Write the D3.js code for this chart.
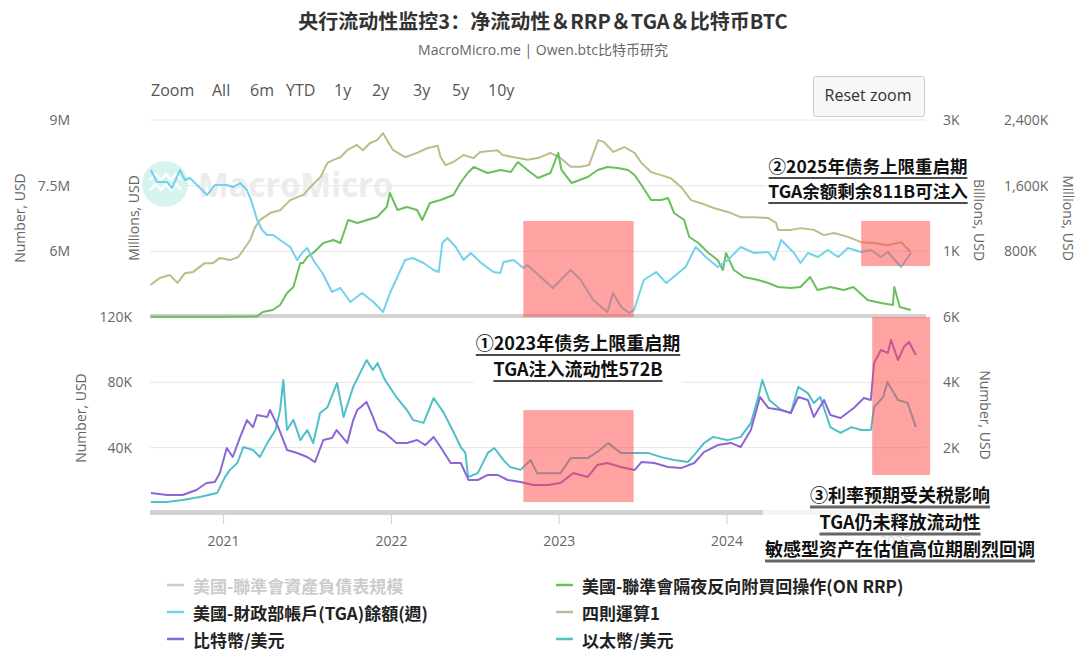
<!DOCTYPE html>
<html>
<head>
<meta charset="utf-8">
<script src="https://cdn.jsdelivr.net/npm/d3@7"></script>
<style>
  body { margin: 0; background: #fff; }
  svg { display: block; }
</style>
</head>
<body>
<svg id="chart" width="1090" height="662"></svg>
<script>
// ---- data ----
// 四則運算1 (millions USD, shown as M)
var netLiq = [
  ["2020-07-27",5.23],["2020-08-16",5.39],["2020-09-07",5.46],["2020-09-24",5.28],["2020-10-10",5.50],
  ["2020-10-28",5.53],["2020-11-22",5.73],["2020-12-10",5.73],["2020-12-25",5.85],["2021-01-16",5.80],
  ["2021-02-03",5.87],["2021-02-14",6.03],["2021-03-01",6.26],["2021-03-12",6.56],["2021-03-23",6.72],
  ["2021-04-14",6.88],["2021-05-05",6.94],["2021-05-27",7.17],["2021-06-12",7.24],["2021-06-25",7.29],
  ["2021-07-10",7.47],["2021-08-01",7.70],["2021-08-16",8.02],["2021-08-29",8.09],["2021-09-13",8.15],
  ["2021-09-28",8.31],["2021-10-19",8.43],["2021-11-01",8.31],["2021-11-16",8.47],["2021-12-02",8.54],
  ["2021-12-15",8.70],["2021-12-26",8.50],["2022-01-06",8.31],["2022-02-01",8.15],["2022-02-27",8.25],
  ["2022-03-22",8.36],["2022-04-13",8.41],["2022-04-19",8.15],["2022-04-30",7.97],["2022-05-17",8.04],
  ["2022-06-08",8.20],["2022-06-30",8.13],["2022-07-14",8.27],["2022-08-21",8.31],["2022-09-01",8.20],
  ["2022-09-25",8.15],["2022-10-25",8.09],["2022-11-17",8.13],["2022-12-14",8.25],["2023-01-05",8.13],
  ["2023-01-27",7.93],["2023-02-18",7.93],["2023-03-08",7.97],["2023-03-28",8.54],["2023-04-09",8.50],
  ["2023-04-30",8.27],["2023-05-24",8.38],["2023-06-15",8.25],["2023-06-30",8.02],["2023-07-21",7.81],
  ["2023-08-12",7.74],["2023-09-02",7.67],["2023-09-24",7.47],["2023-10-16",7.17],["2023-11-06",7.10],
  ["2023-12-04",6.99],["2024-01-04",6.90],["2024-02-01",6.78],["2024-03-01",6.78],["2024-04-01",6.76],
  ["2024-04-18",6.65],["2024-04-22",6.49],["2024-05-20",6.49],["2024-06-10",6.53],["2024-07-09",6.49],
  ["2024-07-31",6.37],["2024-08-22",6.42],["2024-09-21",6.33],["2024-10-20",6.21],["2024-11-17",6.19],
  ["2024-12-17",6.14],["2025-01-15",6.21],["2025-02-05",5.98]
];

// 財政部帳戶 TGA (millions USD, in K)
var tga = [
  ["2020-07-28",1790],["2020-08-10",1644],["2020-09-01",1644],["2020-09-12",1571],["2020-09-29",1790],
  ["2020-10-10",1669],["2020-10-21",1693],["2020-11-27",1486],["2020-12-14",1608],["2021-01-09",1608],
  ["2021-01-22",1583],["2021-02-07",1632],["2021-02-22",1547],["2021-03-05",1389],["2021-03-16",1181],
  ["2021-03-27",1060],["2021-04-07",999],["2021-04-20",999],["2021-05-05",938],["2021-05-27",853],
  ["2021-06-11",694],["2021-06-22",780],["2021-07-03",840],["2021-07-16",694],["2021-08-05",536],
  ["2021-08-26",305],["2021-09-13",353],["2021-10-05",183],["2021-10-30",292],["2021-11-24",183],
  ["2021-12-15",61],["2021-12-30",292],["2022-01-15",487],["2022-02-01",694],["2022-02-18",719],
  ["2022-03-13",658],["2022-04-04",572],["2022-04-15",548],["2022-04-23",901],["2022-05-04",962],
  ["2022-05-22",853],["2022-06-08",694],["2022-06-24",780],["2022-07-14",670],["2022-08-12",548],
  ["2022-08-27",536],["2022-09-03",670],["2022-09-25",694],["2022-10-16",597],["2022-10-25",633],
  ["2022-11-23",487],["2022-12-19",353],["2023-01-05",451],["2023-01-27",572],["2023-02-18",451],
  ["2023-03-17",207],["2023-04-17",61],["2023-04-29",292],["2023-05-17",122],["2023-06-03",49],
  ["2023-06-14",85],["2023-07-05",451],["2023-08-01",548],["2023-08-23",414],["2023-09-13",512],
  ["2023-10-04",609],["2023-10-26",853],["2023-11-17",731],["2023-12-13",609],["2024-01-04",694],
  ["2024-02-01",853],["2024-03-01",780],["2024-04-01",792],["2024-04-14",694],["2024-04-29",938],
  ["2024-05-14",853],["2024-05-27",780],["2024-06-10",658],["2024-06-26",780],["2024-07-18",731],
  ["2024-08-08",816],["2024-08-31",731],["2024-09-21",840],["2024-10-20",792],["2024-11-10",816],
  ["2024-12-02",731],["2024-12-17",792],["2025-01-15",609],["2025-02-05",780]
];

// 聯準會隔夜反向附買回操作 ON RRP (millions USD, in K)
var rrp = [
  ["2020-07-27",3],["2020-10-01",2],["2021-01-01",3],["2021-03-15",6],["2021-03-28",76],
  ["2021-04-19",107],["2021-05-05",183],["2021-05-20",366],["2021-06-03",457],["2021-06-18",822],
  ["2021-06-24",822],["2021-07-03",914],["2021-07-16",975],["2021-08-07",1127],["2021-08-29",1173],
  ["2021-09-13",1127],["2021-09-30",1477],["2021-10-20",1432],["2021-11-10",1477],["2021-12-02",1523],
  ["2021-12-23",1675],["2021-12-30",1889],["2022-01-15",1630],["2022-02-05",1675],["2022-02-27",1630],
  ["2022-03-10",1477],["2022-03-27",1736],["2022-04-19",1782],["2022-05-17",1858],["2022-06-01",2041],
  ["2022-06-17",2193],["2022-06-30",2285],["2022-07-30",2193],["2022-08-28",2239],["2022-09-19",2208],
  ["2022-10-04",2361],["2022-10-25",2239],["2022-11-17",2117],["2022-12-14",2193],["2022-12-31",2498],
  ["2023-01-07",2239],["2023-01-29",2041],["2023-03-05",2132],["2023-03-27",2239],["2023-04-17",2285],
  ["2023-05-09",2269],["2023-06-01",2239],["2023-06-15",2163],["2023-06-30",2010],["2023-07-21",1782],
  ["2023-08-12",1782],["2023-08-27",1812],["2023-09-09",1584],["2023-10-01",1477],["2023-10-12",1218],
  ["2023-11-01",1127],["2023-11-23",975],["2023-12-13",868],["2023-12-24",716],["2023-12-31",975],
  ["2024-01-17",716],["2024-02-08",609],["2024-03-10",564],["2024-04-01",518],["2024-04-22",457],
  ["2024-05-20",442],["2024-06-10",457],["2024-07-01",609],["2024-07-17",411],["2024-08-14",457],
  ["2024-09-12",411],["2024-10-03",457],["2024-11-03",259],["2024-12-02",213],["2024-12-28",183],
  ["2024-12-31",457],["2025-01-12",152],["2025-02-05",107]
];

// 比特幣/美元 (K USD)
var btc = [
  ["2020-07-28",12.2],["2020-09-01",11.0],["2020-10-05",11.0],["2020-11-04",14.1],["2020-11-26",18.4],
  ["2020-12-14",19.0],["2020-12-25",24.5],["2021-01-09",39.8],["2021-01-22",34.3],["2021-02-07",46.5],
  ["2021-02-22",56.9],["2021-03-07",52.6],["2021-03-16",60.0],["2021-04-07",58.8],["2021-04-13",63.1],
  ["2021-05-01",52.6],["2021-05-20",38.6],["2021-06-11",36.7],["2021-07-03",34.3],["2021-07-20",31.2],
  ["2021-08-07",44.7],["2021-08-26",45.9],["2021-09-05",50.8],["2021-09-28",42.9],["2021-10-11",56.9],
  ["2021-10-20",63.1],["2021-11-09",68.0],["2021-11-23",58.8],["2021-12-04",50.8],["2021-12-19",49.0],
  ["2022-01-13",42.9],["2022-02-05",42.9],["2022-02-27",44.7],["2022-03-17",41.6],["2022-04-04",46.5],
  ["2022-04-19",40.4],["2022-05-11",30.6],["2022-06-02",30.6],["2022-06-19",20.2],["2022-07-09",20.2],
  ["2022-07-31",23.3],["2022-08-21",23.3],["2022-09-12",20.2],["2022-10-10",19.0],["2022-11-07",17.1],
  ["2022-12-08",17.1],["2023-01-05",18.4],["2023-02-02",24.5],["2023-03-05",22.0],["2023-03-26",29.4],
  ["2023-04-17",30.6],["2023-05-16",28.2],["2023-06-15",26.3],["2023-06-30",31.2],["2023-07-28",30.6],
  ["2023-08-27",28.2],["2023-09-24",27.5],["2023-10-23",30.6],["2023-11-13",37.3],["2023-12-13",41.6],
  ["2024-01-10",42.9],["2024-02-01",40.4],["2024-02-23",50.8],["2024-03-14",71.0],["2024-04-01",64.3],
  ["2024-04-29",63.1],["2024-05-20",61.2],["2024-06-05",71.0],["2024-06-26",69.2],["2024-07-09",58.8],
  ["2024-07-31",69.2],["2024-08-14",60.0],["2024-09-05",58.2],["2024-10-04",64.3],["2024-10-26",70.4],
  ["2024-11-10",69.2],["2024-11-17",91.8],["2024-12-02",99.8],["2024-12-17",98.0],["2024-12-24",105.9],
  ["2025-01-08",93.7],["2025-01-21",101.6],["2025-02-01",104.7],["2025-02-16",96.7]
];

// 以太幣/美元 (K USD)
var eth = [
  ["2020-07-28",0.34],["2020-09-01",0.34],["2020-10-05",0.40],["2020-11-11",0.49],["2020-12-19",0.61],
  ["2021-01-05",1.10],["2021-01-16",1.32],["2021-02-01",1.53],["2021-02-14",2.02],["2021-03-07",1.93],
  ["2021-03-22",1.71],["2021-04-07",2.14],["2021-04-25",2.54],["2021-05-05",3.15],["2021-05-12",4.07],
  ["2021-05-20",2.54],["2021-06-03",2.85],["2021-06-18",2.23],["2021-07-03",2.54],["2021-07-16",2.14],
  ["2021-07-31",3.06],["2021-08-16",3.24],["2021-09-06",3.98],["2021-09-20",2.94],["2021-10-11",3.86],
  ["2021-11-09",4.68],["2021-11-23",4.38],["2021-12-03",4.59],["2021-12-19",4.07],["2022-01-13",3.55],
  ["2022-02-05",3.15],["2022-02-18",2.85],["2022-03-13",2.76],["2022-04-04",3.52],["2022-04-25",3.09],
  ["2022-05-15",2.54],["2022-06-02",2.02],["2022-06-12",1.84],["2022-06-18",1.10],["2022-07-09",1.22],
  ["2022-07-31",1.84],["2022-08-14",1.99],["2022-09-03",1.62],["2022-09-17",1.41],["2022-10-10",1.32],
  ["2022-11-01",1.62],["2022-11-15",1.22],["2022-12-08",1.22],["2023-01-05",1.22],["2023-01-27",1.68],
  ["2023-03-05",1.68],["2023-03-26",1.87],["2023-04-19",2.14],["2023-05-16",1.84],["2023-06-15",1.84],
  ["2023-07-14",1.84],["2023-08-12",1.71],["2023-09-09",1.62],["2023-10-09",1.56],["2023-10-23",1.78],
  ["2023-11-13",2.14],["2023-12-03",2.33],["2024-01-04",2.23],["2024-02-01",2.33],["2024-02-23",2.75],
  ["2024-03-10",3.55],["2024-03-19",4.07],["2024-04-03",3.46],["2024-04-29",3.15],["2024-05-20",3.06],
  ["2024-06-05",3.86],["2024-06-26",3.67],["2024-07-09",3.37],["2024-07-23",3.55],["2024-08-14",2.63],
  ["2024-09-05",2.45],["2024-09-29",2.63],["2024-10-20",2.54],["2024-11-10",2.54],["2024-11-17",3.24],
  ["2024-12-07",3.55],["2024-12-16",4.01],["2025-01-08",3.46],["2025-01-29",3.37],["2025-02-16",2.63]
];

var legendNames = [
  "美國-聯準會資產負債表規模", "美國-聯準會隔夜反向附買回操作(ON RRP)",
  "美國-財政部帳戶(TGA)餘額(週)", "四則運算1",
  "比特幣/美元", "以太幣/美元"
];
var legendColors = ["#cccccc", "#6abf5a", "#72d2ec", "#bdbd8c", "#8c66d8", "#4fbfca"];

var rangeButtons = ["Zoom", "All", "6m", "YTD", "1y", "2y", "3y", "5y", "10y"];
var rangeX = [151, 212, 250, 286, 334, 372, 413, 452, 488];

// highlighted periods: [start, end, low, high]
var zonesTop = [["2022-10-16","2023-06-13",0,1169],["2024-10-20","2025-03-19",621,1169]];
var zonesLow = [["2022-10-16","2023-06-13",6.7,63],["2024-11-13","2025-03-19",23.3,120]];

var parse = d3.timeParse("%Y-%m-%d");
var svg = d3.select("#chart");
var latin = "'Open Sans', 'Noto Sans CJK SC', sans-serif";
var cjkSC = "'Noto Sans CJK SC', sans-serif";
var cjkTC = "'Noto Sans CJK TC', sans-serif";

var x = d3.scaleTime().domain([parse("2020-07-26"), parse("2025-03-10")]).range([150, 926]);

var topY0 = 317, topY1 = 120, lowY0 = 513, lowY1 = 317;
var yNet = d3.scaleLinear().domain([4.5, 9]).range([topY0, topY1]);
var yRrp = d3.scaleLinear().domain([0, 3000]).range([topY0, topY1]);
var yBil = d3.scaleLinear().domain([0, 3]).range([topY0, topY1]);
var yTga = d3.scaleLinear().domain([0, 2400]).range([topY0, topY1]);
var yBtc = d3.scaleLinear().domain([0, 120]).range([lowY0, lowY1]);
var yEth = d3.scaleLinear().domain([0, 6]).range([lowY0, lowY1]);

// title
svg.append("text").attr("x", 543).attr("y", 29).attr("text-anchor", "middle")
  .attr("font-family", cjkSC).attr("font-weight", 700).attr("font-size", 20).attr("fill", "#333")
  .text("央行流动性监控3：净流动性＆RRP＆TGA＆比特币BTC");
svg.append("text").attr("x", 543).attr("y", 55).attr("text-anchor", "middle")
  .attr("font-family", latin).attr("font-size", 14).attr("fill", "#666")
  .text("MacroMicro.me | Owen.btc比特币研究");

// range selector
svg.selectAll("text.range").data(rangeButtons).enter().append("text")
  .attr("class", "range")
  .attr("x", function(d, i) { return rangeX[i]; }).attr("y", 96)
  .attr("font-family", latin).attr("font-size", 16).attr("fill", "#555")
  .text(function(d) { return d; });

svg.append("rect").attr("x", 813.5).attr("y", 76.5).attr("width", 111).attr("height", 40)
  .attr("rx", 2).attr("fill", "#f7f7f7").attr("stroke", "#cccccc");
svg.append("text").attr("x", 868).attr("y", 101).attr("text-anchor", "middle")
  .attr("font-family", latin).attr("font-size", 16).attr("fill", "#333").text("Reset zoom");

// gridlines
var grid = svg.append("g");
grid.selectAll("line.gt").data([6, 7.5, 9]).enter().append("line")
  .attr("x1", 150).attr("x2", 926).attr("y1", yNet).attr("y2", yNet)
  .attr("stroke", "#e6e6e6");
grid.selectAll("line.gb").data([40, 80]).enter().append("line")
  .attr("x1", 150).attr("x2", 926).attr("y1", yBtc).attr("y2", yBtc)
  .attr("stroke", "#e6e6e6");

// watermark
var wm = svg.append("g");
wm.append("circle").attr("cx", 165).attr("cy", 184).attr("r", 23).attr("fill", "#d6f3ee");
wm.append("path").attr("d", "M150,180 l6,-6 l5,6 l5,-6 l5,6 l5,-6 l5,6 M150,190 l6,-6 l5,6 l5,-6 l5,6 l5,-6 l5,6")
  .attr("fill", "none").attr("stroke", "#fff").attr("stroke-width", 2.5);
wm.append("text").attr("x", 198).attr("y", 197).attr("font-family", "'Open Sans', sans-serif")
  .attr("font-weight", 700).attr("font-size", 34).attr("fill", "#ececec")
  .attr("textLength", 195).attr("lengthAdjust", "spacingAndGlyphs").text("MacroMicro");

// bottom bands of each pane
svg.append("rect").attr("x", 150).attr("y", 314).attr("width", 776).attr("height", 4).attr("fill", "#d2d2d2");
svg.append("rect").attr("x", 150).attr("y", 510).attr("width", 776).attr("height", 5).attr("fill", "#d2d2d2");

// x axis
var xAxis = svg.append("g").attr("transform", "translate(0,514)")
  .call(d3.axisBottom(x).ticks(d3.timeYear.every(1)).tickSize(10).tickPadding(12)
    .tickFormat(d3.timeFormat("%Y")));
xAxis.select(".domain").remove();
xAxis.selectAll("line").attr("stroke", "#d0d0d0");
xAxis.selectAll("text").attr("font-family", latin).attr("font-size", 14).attr("fill", "#666");

// y axes
function styleAxis(g) {
  g.select(".domain").remove();
  g.selectAll("line").remove();
  g.selectAll("text").attr("font-family", latin).attr("font-size", 14).attr("fill", "#666");
}
svg.append("g").attr("transform", "translate(70,0)")
  .call(d3.axisLeft(yNet).tickValues([6, 7.5, 9]).tickSize(0).tickPadding(0)
    .tickFormat(function(d) { return d + "M"; })).call(styleAxis);
svg.append("g").attr("transform", "translate(132,0)")
  .call(d3.axisLeft(yBtc).tickValues([40, 80, 120]).tickSize(0).tickPadding(0)
    .tickFormat(function(d) { return d + "K"; })).call(styleAxis);
// the 2K label sits under annotation ② in the original, so only 1K and 3K show
svg.append("g").attr("transform", "translate(943,0)")
  .call(d3.axisRight(yBil).tickValues([1, 3]).tickSize(0).tickPadding(0)
    .tickFormat(function(d) { return d + "K"; })).call(styleAxis);
svg.append("g").attr("transform", "translate(1004,0)")
  .call(d3.axisRight(yTga).tickValues([800, 1600, 2400]).tickSize(0).tickPadding(0)
    .tickFormat(function(d) { return d3.format(",")(d) + "K"; })).call(styleAxis);
svg.append("g").attr("transform", "translate(943,0)")
  .call(d3.axisRight(yEth).tickValues([2, 4, 6]).tickSize(0).tickPadding(0)
    .tickFormat(function(d) { return d + "K"; })).call(styleAxis);

// axis titles
function axisTitle(tx, ty, rot, label) {
  svg.append("text").attr("transform", "translate(" + tx + "," + ty + ") rotate(" + rot + ")")
    .attr("text-anchor", "middle").attr("dominant-baseline", "central")
    .attr("font-family", latin).attr("font-size", 14).attr("fill", "#666").text(label);
}
axisTitle(19, 218, -90, "Number, USD");
axisTitle(133, 218, -90, "Millions, USD");
axisTitle(80, 418, -90, "Number, USD");
axisTitle(979, 220, 90, "Billions, USD");
axisTitle(1068, 218, 90, "Millions, USD");
axisTitle(985, 415, 90, "Number, USD");

// lines
function drawLine(data, yScale, color) {
  var line = d3.line()
    .x(function(d) { return x(parse(d[0])); })
    .y(function(d) { return yScale(d[1]); });
  svg.append("path").datum(data).attr("d", line)
    .attr("fill", "none").attr("stroke", color).attr("stroke-width", 2)
    .attr("stroke-linejoin", "round");
}
drawLine(netLiq, yNet, legendColors[3]);
drawLine(rrp, yRrp, legendColors[1]);
drawLine(tga, yTga, legendColors[2]);
drawLine(eth, yEth, legendColors[5]);
drawLine(btc, yBtc, legendColors[4]);

// highlight zones
svg.selectAll("rect.zt").data(zonesTop).enter().append("rect")
  .attr("x", function(d) { return x(parse(d[0])); })
  .attr("width", function(d) { return x(parse(d[1])) - x(parse(d[0])); })
  .attr("y", function(d) { return yTga(d[3]); })
  .attr("height", function(d) { return yTga(d[2]) - yTga(d[3]); })
  .attr("fill", "rgb(255,70,70)").attr("fill-opacity", 0.5);
svg.selectAll("rect.zl").data(zonesLow).enter().append("rect")
  .attr("x", function(d) { return x(parse(d[0])); })
  .attr("width", function(d) { return x(parse(d[1])) - x(parse(d[0])); })
  .attr("y", function(d) { return yBtc(d[3]); })
  .attr("height", function(d) { return yBtc(d[2]) - yBtc(d[3]); })
  .attr("fill", "rgb(255,70,70)").attr("fill-opacity", 0.5);

// annotations
function note(lines, cx, baselines, size, bgOpacity, ulColor, ulWidth) {
  var g = svg.append("g");
  var bg = g.append("rect").attr("fill", "#fff").attr("fill-opacity", bgOpacity);
  var texts = lines.map(function(t, i) {
    return g.append("text").attr("x", cx).attr("y", baselines[i]).attr("text-anchor", "middle")
      .attr("font-family", cjkSC).attr("font-weight", 700).attr("font-size", size)
      .attr("fill", "#111").text(t);
  });
  var minX = 1e9, maxX = -1e9;
  texts.forEach(function(t, i) {
    var w = t.node().getComputedTextLength();
    minX = Math.min(minX, cx - w / 2); maxX = Math.max(maxX, cx + w / 2);
    g.append("line").attr("x1", cx - w / 2).attr("x2", cx + w / 2)
      .attr("y1", baselines[i] + 5).attr("y2", baselines[i] + 5)
      .attr("stroke", ulColor).attr("stroke-width", ulWidth);
  });
  bg.attr("x", minX - 2).attr("width", maxX - minX + 4)
    .attr("y", baselines[0] - size - 1).attr("height", baselines[baselines.length - 1] - baselines[0] + size + 9);
}
note(["①2023年债务上限重启期", "TGA注入流动性572B"], 578, [350, 376], 18, 1, "#111", 1.5);
note(["②2025年债务上限重启期", "TGA余额剩余811B可注入"], 868, [173, 198], 17.5, 1, "#111", 1.5);
note(["③利率预期受关税影响", "TGA仍未释放流动性", "敏感型资产在估值高位期剧烈回调"],
  900, [502, 529, 556], 18, 0.75, "#666", 3);

// legend
var legend = svg.append("g");
var legX = [167, 556];
var legY = [585, 612, 639];
legendNames.forEach(function(name, i) {
  var col = i % 2, row = Math.floor(i / 2);
  var lx = legX[col], ly = legY[row];
  legend.append("line").attr("x1", lx).attr("x2", lx + 17).attr("y1", ly).attr("y2", ly)
    .attr("stroke", legendColors[i]).attr("stroke-width", 2.5);
  legend.append("text").attr("x", lx + 26).attr("y", ly).attr("dominant-baseline", "central")
    .attr("font-family", cjkTC).attr("font-weight", 700).attr("font-size", 17)
    .attr("fill", i === 0 ? "#cccccc" : "#222").text(name);
});
</script>
</body>
</html>
